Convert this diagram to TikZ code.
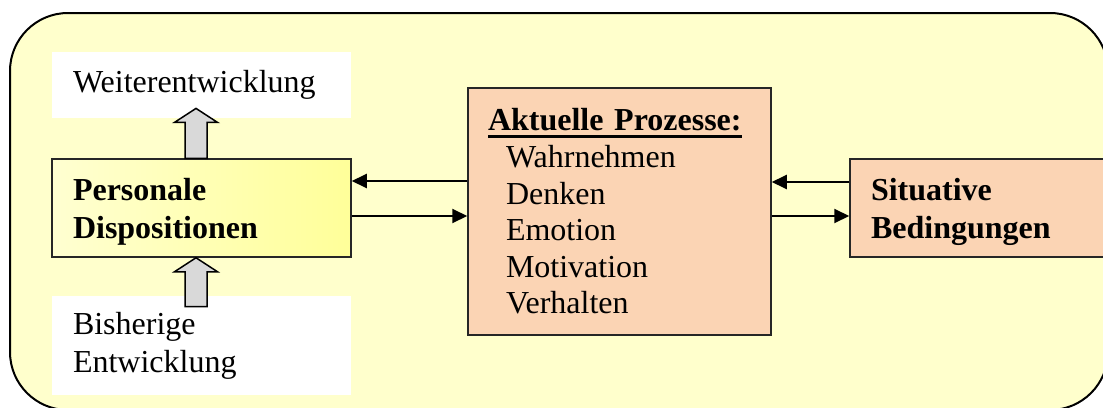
\documentclass[tikz,border=0pt]{standalone}
\usepackage{fontspec}
\setmainfont{Liberation Serif}
\usetikzlibrary{arrows.meta,calc}

\definecolor{bgyellow}{HTML}{FFFFCC}
\definecolor{dispyellow}{HTML}{FFFF99}
\definecolor{peach}{HTML}{FBD4B4}
\definecolor{arrowgray}{HTML}{D9D9D9}

% thick underline for the heading
\newcommand{\heavyul}[1]{\setbox0\hbox{#1}\rlap{\rule[-3.6pt]{\wd0}{1.5pt}}\box0}
% pushes a two-line label a little down in its box
\newcommand{\topgap}{\rule{0pt}{15pt}}

% fat up arrow: #1 = foot, #2 = tip
\newcommand{\fatarrow}[2]{%
  \draw[fatarrow] ($(#1)+(-11,0)$) -- ($(#2)+(-11,14)$) -- ($(#2)+(-21.5,14)$)
    -- (#2) -- ($(#2)+(21.5,14)$) -- ($(#2)+(11,14)$) -- ($(#1)+(11,0)$) -- cycle;}

\tikzset{
  txt/.style={font=\fontsize{16}{19}\selectfont, align=left, inner ysep=0pt},
  whitebox/.style={txt, fill=white, minimum width=149.5pt, text width=128.5pt, inner xsep=10.5pt},
  box/.style={txt, draw=black!85, line width=0.75pt, minimum height=49pt},
  conn/.style={line width=1pt, -{Triangle[length=7.5pt,width=7pt]}},
  fatarrow/.style={draw=black, line width=0.75pt, fill=arrowgray},
}

\begin{document}
\begin{tikzpicture}[x=0.5pt, y=-0.5pt]
  \useasboundingbox (0,0) rectangle (1103,407);
  \clip (0,0) rectangle (1103,407);

  % background frame
  \draw[line width=1pt, fill=bgyellow, rounded corners=29pt] (10,13) rectangle (1108,410);

  % left column
  \node[whitebox, minimum height=33pt] (weiter) at (201.5,85) {Weiterentwicklung};
  \node[whitebox, minimum height=49.5pt] (bisher) at (201.5,345.5) {Bisherige\\Entwicklung};
  \node[box, minimum width=149.5pt, text width=128.5pt, inner xsep=10.5pt,
        left color=dispyellow!45!white, right color=dispyellow, font=\fontsize{16}{19}\selectfont\bfseries]
        (pers) at (201.5,208) {\topgap Personale\\Dispositionen};

  % processes
  \node[box, fill=peach, minimum width=151.5pt, minimum height=123.5pt, text width=131.5pt,
        inner xsep=10pt, font=\fontsize{16}{18.3}\selectfont] (proz) at (619.5,211.5)
        {\heavyul{\textbf{Aktuelle Prozesse:}}\\
         \hspace*{9pt}Wahrnehmen\\
         \hspace*{9pt}Denken\\
         \hspace*{9pt}Emotion\\
         \hspace*{9pt}Motivation\\
         \hspace*{9pt}Verhalten};

  % situation
  \node[box, fill=peach, minimum width=130pt, text width=109pt, inner xsep=10.5pt,
        font=\fontsize{16}{19}\selectfont\bfseries] (sit) at (980,208) {\topgap Situative\\Bedingungen};

  % connectors
  \draw[conn] (proz.west |- 0,181) -- (pers.east |- 0,181);
  \draw[conn] (pers.east |- 0,216) -- (proz.west |- 0,216);
  \draw[conn] (sit.west |- 0,182) -- (proz.east |- 0,182);
  \draw[conn] (proz.east |- 0,216) -- (sit.west |- 0,216);

  % development arrows
  \coordinate (upfoot) at ([xshift=-2.75pt]pers.north);
  \coordinate (uptip) at ([yshift=5pt]weiter.south -| upfoot);
  \coordinate (lowfoot) at ([yshift=-5.5pt]bisher.north -| upfoot);
  \coordinate (lowtip) at (pers.south -| upfoot);
  \fatarrow{upfoot}{uptip}
  \fatarrow{lowfoot}{lowtip}
\end{tikzpicture}
\end{document}
